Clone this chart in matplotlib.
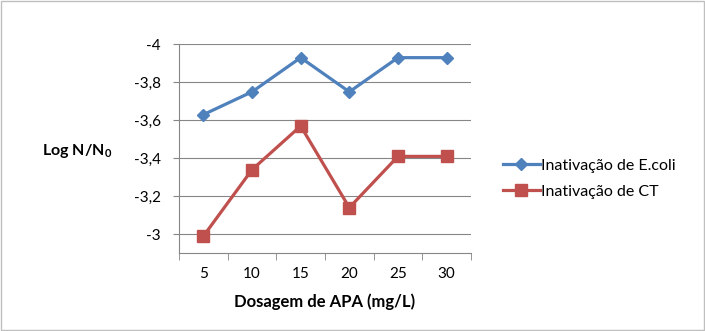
import numpy as np
import matplotlib
matplotlib.use("Agg")
import matplotlib.pyplot as plt
from matplotlib.ticker import FixedLocator, FuncFormatter

plt.rcParams['font.family'] = ['Lato', 'DejaVu Sans']
plt.rcParams['mathtext.fontset'] = 'custom'
plt.rcParams['mathtext.bf'] = 'Lato:bold'
plt.rcParams['mathtext.rm'] = 'Lato'

dosagens = ["5", "10", "15", "20", "25", "30"]
ecoli = [-3.63, -3.75, -3.93, -3.75, -3.93, -3.93]
ct = [-2.99, -3.34, -3.57, -3.14, -3.41, -3.41]
y_ticks = [-4.0, -3.8, -3.6, -3.4, -3.2, -3.0]

fig = plt.figure(figsize=(7.05, 3.31), dpi=100)
ax = fig.add_axes([0.254, 0.235, 0.414, 0.631])

x = np.arange(len(dosagens))
ax.plot(x, ecoli, color='#4F81BD', linewidth=2.3, marker='D', markersize=6.5,
        label='Inativação de E.coli')
ax.plot(x, ct, color='#C0504D', linewidth=2.3, marker='s', markersize=9,
        label='Inativação de CT')

ax.set_xlim(-0.5, len(dosagens) - 0.5)
ax.set_ylim(-2.9, -4.0)

ax.set_xticks(x)
ax.set_xticklabels(dosagens, fontsize=11)
ax.xaxis.set_minor_locator(FixedLocator(np.arange(-0.5, len(dosagens), 1.0)))
ax.tick_params(axis='x', which='major', length=0, pad=10)
ax.tick_params(axis='x', which='minor', length=5, color='#868686')

ax.set_yticks(y_ticks)
ax.yaxis.set_major_formatter(FuncFormatter(lambda v, p: f"{v:g}".replace('.', ',')))
ax.tick_params(axis='y', length=4, color='#868686', labelsize=11, pad=9)

ax.grid(axis='y', color='#868686', linewidth=0.8)
ax.set_axisbelow(True)
for s in ['top', 'right']:
    ax.spines[s].set_visible(False)
for s in ['left', 'bottom']:
    ax.spines[s].set_color('#868686')

ax.set_xlabel('Dosagem de APA (mg/L)', fontsize=12, fontweight='bold', labelpad=9)
fig.text(0.059, 0.545, r'Log N/N$_\mathbf{0}$', fontsize=11.5, fontweight='bold',
         ha='left', va='center')

fig.legend(loc='upper left', bbox_to_anchor=(0.693, 0.565), frameon=False,
           fontsize=11.5, handlelength=2.3, handletextpad=0.1, labelspacing=0.75)

fig.patches.append(plt.Rectangle((0.002, 0.003), 0.996, 0.994, transform=fig.transFigure,
                                 fill=False, edgecolor='#BFBFBF', linewidth=1))

fig.savefig('out.png', dpi=100)
